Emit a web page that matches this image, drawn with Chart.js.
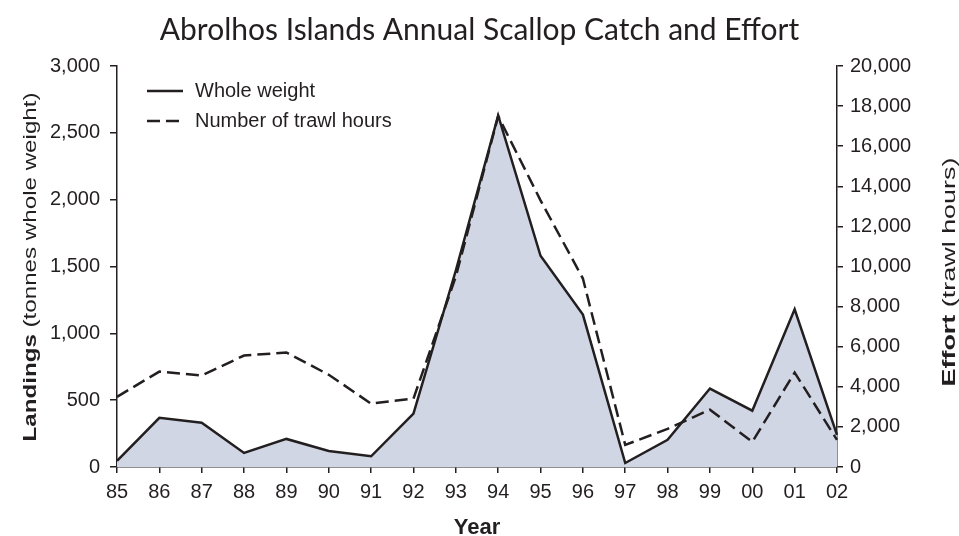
<!DOCTYPE html>
<html>
<head>
<meta charset="utf-8">
<script src="https://cdn.jsdelivr.net/npm/chart.js@4/dist/chart.umd.min.js"></script>
<style>
  html, body { margin: 0; padding: 0; background: #fff; }
  #chart { display: block; }
</style>
</head>
<body>
<canvas id="chart" width="959" height="536"></canvas>
<script>
// Abrolhos Islands scallops: landings (left axis) and trawl effort (right axis)

const years = ['85', '86', '87', '88', '89', '90', '91', '92', '93', '94', '95', '96', '97', '98', '99', '00', '01', '02'];
const wholeWeight = [45, 368, 331, 105, 210, 120, 80, 400, 1470, 2630, 1580, 1140, 30, 203, 587, 421, 1180, 240];
const trawlHours = [3500, 4760, 4560, 5560, 5710, 4600, 3160, 3410, 9500, 17500, 13300, 9400, 1100, 1900, 2860, 1250, 4710, 1350];

const landingsTicks = [0, 500, 1000, 1500, 2000, 2500, 3000];
const effortTicks = [0, 2000, 4000, 6000, 8000, 10000, 12000, 14000, 16000, 18000, 20000];

const ink = '#231f20';
const tickFont = { family: "'Liberation Sans', Arial, sans-serif", size: 20 };

// legend drawn inside the plot, top-left
const insideLegend = {
    id: 'insideLegend',
    afterDraw(chart) {
        const c = chart.ctx;
        c.save();
        c.font = "20px 'Liberation Sans', Arial, sans-serif";
        c.fillStyle = ink;
        c.textBaseline = 'middle';
        chart.data.datasets.forEach((ds, i) => {
            const y = 91 + i * 30;
            c.strokeStyle = ds.borderColor;
            c.lineWidth = ds.borderWidth;
            c.setLineDash(ds.borderDash || []);
            c.beginPath();
            c.moveTo(147, y);
            c.lineTo(183, y);
            c.stroke();
            c.setLineDash([]);
            c.fillText(ds.label, 195, y);
        });
        c.restore();
    }
};

// rotated side titles with a bold first word
function sideTitle(c, parts, cx, cy, len) {
    c.save();
    c.translate(cx, cy);
    c.rotate(-Math.PI / 2);
    let total = 0;
    parts.forEach(p => { c.font = p.font; total += c.measureText(p.text).width; });
    const k = len / total;
    c.scale(k, 1);
    let x = -total / 2;
    c.fillStyle = ink;
    c.textBaseline = 'middle';
    parts.forEach(p => {
        c.font = p.font;
        c.fillText(p.text, x, 0);
        x += c.measureText(p.text).width;
    });
    c.restore();
}

const axisTitles = {
    id: 'axisTitles',
    afterDraw(chart) {
        const c = chart.ctx;
        const fam = "'Liberation Sans', Arial, sans-serif";
        sideTitle(c, [
            { text: 'Landings', font: 'bold 18px ' + fam },
            { text: ' (tonnes whole weight)', font: '18px ' + fam }
        ], 31, 267, 349);
        sideTitle(c, [
            { text: 'Effort', font: 'bold 18px ' + fam },
            { text: ' (trawl hours)', font: '18px ' + fam }
        ], 950, 272, 229);
    }
};

const ctx = document.getElementById('chart').getContext('2d');

new Chart(ctx, {
    type: 'line',
    data: {
        labels: years,
        datasets: [{
            label: 'Whole weight',
            data: wholeWeight,
            yAxisID: 'y',
            borderColor: ink,
            borderWidth: 2.5,
            backgroundColor: 'rgb(208, 214, 227)',
            fill: 'origin',
            pointRadius: 0,
            tension: 0
        }, {
            label: 'Number of trawl hours',
            data: trawlHours,
            yAxisID: 'y1',
            borderColor: ink,
            borderWidth: 2.5,
            borderDash: [13, 6],
            fill: false,
            pointRadius: 0,
            tension: 0
        }]
    },
    options: {
        responsive: false,
        animation: false,
        layout: { padding: 0 },
        plugins: {
            legend: { display: false },
            tooltip: { enabled: false },
            filler: { drawTime: 'beforeDatasetsDraw' },
            title: {
                display: true,
                text: 'Abrolhos Islands Annual Scallop Catch and Effort',
                color: ink,
                font: { family: "Lato, 'Open Sans', sans-serif", size: 30, weight: 'normal', lineHeight: 1.2 },
                padding: { top: 12, bottom: 18 }
            }
        },
        scales: {
            x: {
                offset: false,
                grid: { display: true, drawOnChartArea: false, drawTicks: true, tickLength: 6, color: ink, lineWidth: 1.5 },
                border: { display: true, color: ink, width: 1.5 },
                ticks: { color: ink, font: tickFont, padding: 7, maxRotation: 0, autoSkip: false },
                title: {
                    display: true,
                    text: 'Year',
                    color: ink,
                    font: { family: "'Liberation Sans', Arial, sans-serif", size: 22, weight: 'bold', lineHeight: 1 },
                    padding: { top: 0, bottom: -3 }
                },
                afterFit(scale) { scale.height = 69; }
            },
            y: {
                position: 'left',
                min: 0,
                max: 3000,
                afterBuildTicks(scale) { scale.ticks = landingsTicks.map(v => ({ value: v })); },
                grid: { display: true, drawOnChartArea: false, drawTicks: true, tickLength: 7, color: ink, lineWidth: 1.5 },
                border: { display: true, color: ink, width: 1.5 },
                ticks: { color: ink, font: tickFont, padding: 10, callback: v => v.toLocaleString('en-US') },
                afterFit(scale) { scale.width = 117; }
            },
            y1: {
                position: 'right',
                min: 0,
                max: 20000,
                afterBuildTicks(scale) { scale.ticks = effortTicks.map(v => ({ value: v })); },
                grid: { display: true, drawOnChartArea: false, drawTicks: true, tickLength: 6, color: ink, lineWidth: 1.5 },
                border: { display: true, color: ink, width: 1.5 },
                ticks: { color: ink, font: tickFont, padding: 7, callback: v => v.toLocaleString('en-US') },
                afterFit(scale) { scale.width = 122; }
            }
        }
    },
    plugins: [insideLegend, axisTitles]
});
</script>
</body>
</html>
